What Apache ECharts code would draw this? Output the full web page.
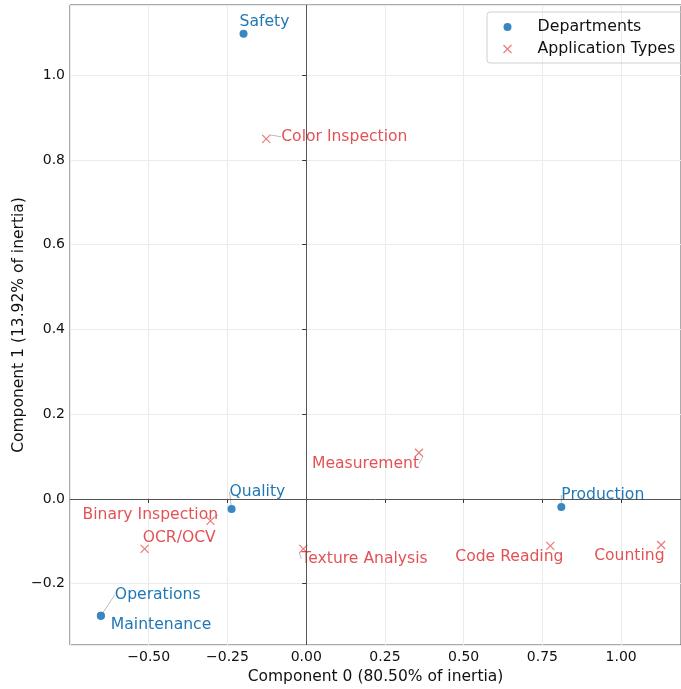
<!DOCTYPE html>
<html>
<head>
<meta charset="utf-8">
<script src="https://cdn.jsdelivr.net/npm/echarts@6/dist/echarts.min.js"></script>
<style>
  html, body { margin: 0; padding: 0; background: #fff; }
  #main { width: 681px; height: 689px; }
</style>
</head>
<body>
<div id="main"></div>
<script>
// departments (row coordinates)
var deptNames = ['Safety', 'Quality', 'Production', 'Operations', 'Maintenance'];
var deptX = [-0.199, -0.237, 0.810, -0.652, -0.652];
var deptY = [1.098, -0.024, -0.019, -0.276, -0.276];

// application types (column coordinates)
var appNames = ['Color Inspection', 'Measurement', 'Binary Inspection', 'OCR/OCV', 'Texture Analysis', 'Code Reading', 'Counting'];
var appX = [-0.127, 0.358, -0.304, -0.513, -0.009, 0.775, 1.127];
var appY = [0.850, 0.109, -0.052, -0.118, -0.118, -0.111, -0.109];

// label shifts (px) from the point, like adjustText did
var deptShift = [[-4, -12], [-2, -17], [0, -12], [14, -21], [10, 9]];
var deptLine = [false, true, true, true, false];
var appShift = [[15, -2], [-107, 11], [-128, -6], [-2, -11], [-2, 10], [-95, 11], [-67, 11]];
var appLine = [true, true, true, false, true, false, false];

var BLUE = '#1f77b4', RED = '#dc2629';
var FONT = 'DejaVu Sans';
var cross = 'path://M0,0L10,10M10,0L0,10';

function fmt(d) {
	return function (v) {
		return (v < 0 ? '\u2212' : '') + Math.abs(v).toFixed(d);
	};
}

function points(xs, ys, names, lines) {
	var out = [];
	for (var i = 0; i < xs.length; i++) {
		out.push({ value: [xs[i], ys[i]], name: names[i], labelLine: { show: lines[i] } });
	}
	return out;
}

var myChart = echarts.init(document.getElementById('main'));
var option = {
	animation: false,
	textStyle: { fontFamily: FONT },
	grid: {
		left: 70, right: 0, top: 5, bottom: 44,
		outerBoundsMode: 'none',
		containLabel: false,
		show: true, borderColor: '#555', borderWidth: 1
	},
	legend: {
		orient: 'vertical',
		left: 487, top: 12,
		padding: [6, 8, 5, 14],
		itemWidth: 40, itemHeight: 8, itemGap: 4,
		borderColor: '#d0d0d0', borderWidth: 1, borderRadius: 3,
		textStyle: { fontFamily: FONT, fontSize: 15.8, color: '#111', lineHeight: 18, padding: [0, 0, 0, 5] },
		data: [
			{ name: 'Departments', icon: 'circle', itemStyle: { color: '#3a86c0' } },
			{ name: 'Application Types', icon: cross, itemStyle: { color: 'none', borderColor: '#e8575a', borderWidth: 1.2 } }
		]
	},
	xAxis: {
		type: 'value',
		min: -0.75, max: 1.19,
		minInterval: 0.25, maxInterval: 0.25,
		name: 'Component 0 (80.50% of inertia)',
		nameLocation: 'middle', nameGap: 24,
		nameMoveOverlap: false,
		nameTextStyle: { fontFamily: FONT, fontSize: 15.5, color: '#111' },
		axisLine: { show: false },
		axisTick: { show: true, length: 4, lineStyle: { color: '#333' } },
		axisLabel: { formatter: fmt(2), fontSize: 14, color: '#111', margin: 5, showMinLabel: false, showMaxLabel: false },
		splitLine: { show: true, lineStyle: { color: '#ebebeb' } }
	},
	yAxis: {
		type: 'value',
		min: -0.345, max: 1.166,
		minInterval: 0.2, maxInterval: 0.2,
		name: 'Component 1 (13.92% of inertia)',
		nameLocation: 'middle', nameGap: 43,
		nameMoveOverlap: false,
		nameTextStyle: { fontFamily: FONT, fontSize: 15.5, color: '#111' },
		axisLine: { show: false },
		axisTick: { show: true, length: 4, lineStyle: { color: '#333' } },
		axisLabel: { formatter: fmt(1), fontSize: 14, color: '#111', margin: 5, showMinLabel: false, showMaxLabel: false },
		splitLine: { show: true, lineStyle: { color: '#ebebeb' } }
	},
	series: [
		{
			name: 'Departments',
			type: 'scatter',
			symbol: 'circle',
			symbolSize: 8,
			itemStyle: { color: '#3a86c0', opacity: 1 },
			data: points(deptX, deptY, deptNames, deptLine),
			label: {
				show: true, position: 'inside', align: 'left', verticalAlign: 'middle',
				formatter: '{b}', color: BLUE, fontFamily: FONT, fontSize: 15.6
			},
			labelLayout: function (p) {
				return { dx: deptShift[p.dataIndex][0], dy: deptShift[p.dataIndex][1] };
			},
			labelLine: { show: true, lineStyle: { color: '#bbbbbb', width: 1 } },
			markLine: {
				silent: true,
				symbol: 'none',
				label: { show: false },
				lineStyle: { color: '#555', width: 1, type: 'solid' },
				data: [{ xAxis: 0 }, { yAxis: 0 }]
			}
		},
		{
			name: 'Application Types',
			type: 'scatter',
			symbol: cross,
			symbolSize: 8,
			itemStyle: { color: 'none', borderColor: '#e8575a', borderWidth: 1.2 },
			data: points(appX, appY, appNames, appLine),
			label: {
				show: true, position: 'inside', align: 'left', verticalAlign: 'middle',
				formatter: '{b}', color: RED, fontFamily: FONT, fontSize: 15.6
			},
			labelLayout: function (p) {
				return { dx: appShift[p.dataIndex][0], dy: appShift[p.dataIndex][1] };
			},
			labelLine: { show: true, lineStyle: { color: '#bbbbbb', width: 1 } }
		}
	]
};
myChart.setOption(option);
</script>
</body>
</html>
